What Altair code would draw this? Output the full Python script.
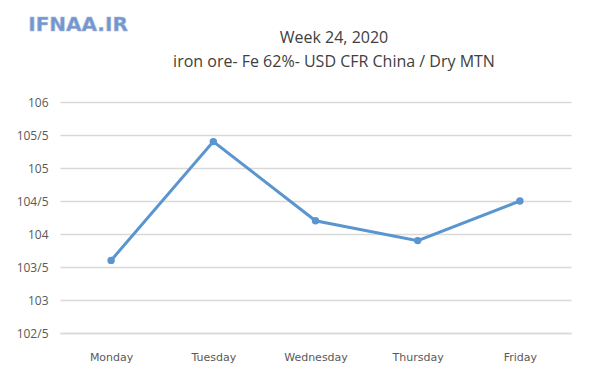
import altair as alt
import pandas as pd

days = ["Monday", "Tuesday", "Wednesday", "Thursday", "Friday"]
prices = [103.6, 105.4, 104.2, 103.9, 104.5]
y_ticks = [102.5, 103, 103.5, 104, 104.5, 105, 105.5, 106]
title_text = "Week 24, 2020"
subtitle_text = "iron ore- Fe 62%- USD CFR China / Dry MTN"
logo_text = "IFNAA.IR"

df = pd.DataFrame({"day": days, "price": prices})

x_enc = alt.X("day:N", sort=days, title=None,
              scale=alt.Scale(paddingInner=0, paddingOuter=0),
              axis=alt.Axis(labelAngle=0, ticks=False, domain=True, domainColor="#d9d9d9",
                            domainWidth=1.3, labelColor="#595959", labelFont="DejaVu Sans",
                            labelFontSize=11, labelPadding=18, grid=False))
y_enc = alt.Y("price:Q", title=None,
              scale=alt.Scale(domain=[102.5, 106], nice=False, zero=False),
              axis=alt.Axis(values=y_ticks, ticks=False, domain=False, gridColor="#d9d9d9",
                            gridWidth=1.3, labelColor="#595959", labelFont="Open Sans",
                            labelFontSize=12, labelPadding=12,
                            labelExpr="replace(toString(datum.value), '.', '/')"))

line = alt.Chart(df).mark_line(color="#5b95d0", strokeWidth=3).encode(x=x_enc, y=y_enc)
pts = alt.Chart(df).mark_point(filled=True, color="#5b95d0", size=55, opacity=1).encode(x=x_enc, y=y_enc)

one = pd.DataFrame({"t": [0]})
logo = alt.Chart(one).mark_text(text=logo_text, font="DejaVu Sans", fontWeight="bold",
                                fontSize=20, color="#7096d6", stroke="#aab6c8", strokeWidth=0.6,
                                align="center", baseline="middle").encode(
    x=alt.value(18), y=alt.value(-77.5))
title = alt.Chart(one).mark_text(text=title_text, font="Open Sans", fontSize=16,
                                 color="#404040", align="center", baseline="middle").encode(
    x=alt.value(274), y=alt.value(-64))
subtitle = alt.Chart(one).mark_text(text=subtitle_text, font="Open Sans", fontSize=16,
                                    color="#404040", align="center", baseline="middle").encode(
    x=alt.value(274), y=alt.value(-40))

chart = alt.layer(line, pts, logo, title, subtitle).properties(
    width=511, height=231,
    background="white",
    autosize=alt.AutoSizeParams(type="none"),
    padding={"left": 52, "top": 94, "right": 21, "bottom": 32},
).configure_view(strokeWidth=0, stroke="transparent")

chart.save("out.html", embed_options={"renderer": "svg", "actions": False})
